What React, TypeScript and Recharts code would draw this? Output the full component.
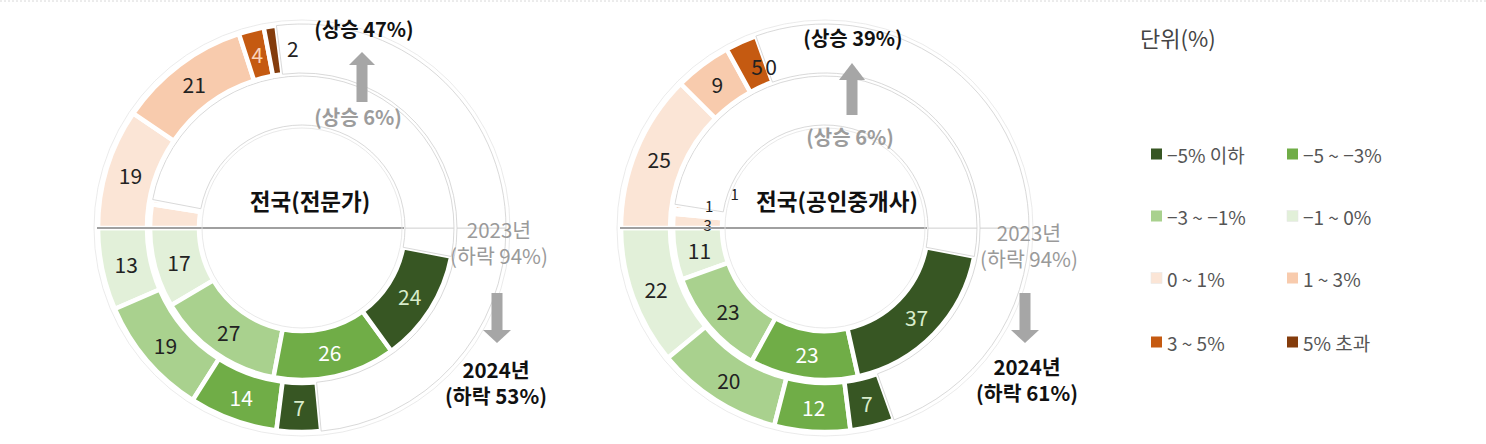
import React from 'react';
import { PieChart, Pie, Cell } from 'recharts';

if (typeof document !== 'undefined') {
  document.body.style.margin = '0';
}

// ---------- data ----------
const categories = ['-5% 이하', '-5 ~ -3%', '-3 ~ -1%', '-1 ~ 0%', '0 ~ 1%', '1 ~ 3%', '3 ~ 5%', '5% 초과'];
const colors = ['#375623', '#70ad47', '#a9d18e', '#e2f0d9', '#fbe5d6', '#f8cbad', '#c55a11', '#843c0c'];

// values aligned with categories
const expert2023 = [24, 26, 27, 17, 5, 1, 0, 0];
const expert2024 = [7, 14, 19, 13, 19, 21, 4, 2];
const broker2023 = [37, 23, 23, 11, 3, 1, 1, 0];
const broker2024 = [7, 12, 20, 22, 25, 9, 5, 0];

// [2023, 2024]
const expertRise = [6, 47];
const expertFall = [94, 53];
const brokerRise = [6, 39];
const brokerFall = [94, 61];

const years = ['2023년', '2024년'];
const titles = ['전국(전문가)', '전국(공인중개사)'];

const DECLINE_ORDER = [3, 2, 1, 0];
const RISE_ORDER = [4, 5, 6, 7];

// ---------- helpers ----------
const FONT = '"Noto Sans CJK KR", "Noto Sans", sans-serif';
const RAD = Math.PI / 180;

type Slice = { name: string; value: number; cat: number };

function half(vals: number[], order: number[]): Slice[] {
  const arr: Slice[] = order.map((i) => ({ name: categories[i], value: vals[i], cat: i }));
  const sum = arr.reduce((s, d) => s + d.value, 0);
  arr.push({ name: 'blank', value: 100 - sum, cat: -1 });
  return arr;
}

const HIDE: Record<string, string[]> = {
  'expert-inner': ['0 ~ 1%', '1 ~ 3%', '3 ~ 5%', '5% 초과'],
  'broker-inner': ['5% 초과'],
};
const NUDGE: Record<string, [number, number]> = {
  'expert-outer-5% 초과': [19, -3],
  'broker-outer-3 ~ 5%': [6, 2],
  'broker-outer-5% 초과': [7, 7],
  'broker-inner-0 ~ 1%': [10, 3],
  'broker-inner-1 ~ 3%': [11, -9],
  'broker-inner-3 ~ 5%': [36, -17],
};
const LIGHT_TEXT: Record<number, string> = { 0: '#d8eccb', 1: '#ffffff', 6: '#fbd3b8' };

function makeLabel(key: string) {
  return (props: any) => {
    const { cx, cy, midAngle, innerRadius, outerRadius, payload, index } = props;
    const p = payload || {};
    const name = p.name ?? props.name;
    const cat = p.cat ?? props.cat;
    const value = p.value ?? props.value;
    if (name === 'blank' || cat === -1) return null;
    if ((HIDE[key] || []).includes(name)) return null;
    const r = (innerRadius + outerRadius) / 2;
    let x = cx + r * Math.cos(-midAngle * RAD);
    let y = cy + r * Math.sin(-midAngle * RAD);
    const nudge = NUDGE[`${key}-${name}`];
    let fill = LIGHT_TEXT[cat] || '#222';
    if (nudge) {
      x += nudge[0];
      y += nudge[1];
      fill = '#222';
    }
    return (
      <text
        key={`${key}-${index}`}
        x={x}
        y={y}
        textAnchor="middle"
        dominantBaseline="central"
        fill={fill}
        fontSize={nudge && key.endsWith('inner') ? 15 : 21}
        fontFamily={FONT}
      >
        {value}
      </text>
    );
  };
}

function cells(data: Slice[]) {
  return data.map((d, i) =>
    d.cat === -1 ? (
      <Cell key={i} fill="#ffffff" stroke="#cfcfcf" strokeWidth={0.8} />
    ) : (
      <Cell key={i} fill={colors[d.cat]} stroke="#ffffff" strokeWidth={4.5} />
    )
  );
}

const INNER = [103, 152];
const OUTER = [155, 204];
const CY = 228;

function ringPies(id: string, cx: number, v2023: number[], v2024: number[]) {
  const rings: [string, number[], number[]][] = [
    ['inner', v2023, INNER],
    ['outer', v2024, OUTER],
  ];
  const out: React.ReactNode[] = [];
  rings.forEach(([ring, vals, rr]) => {
    const key = `${id}-${ring}`;
    const lower = half(vals, DECLINE_ORDER);
    const upper = half(vals, RISE_ORDER);
    out.push(
      <Pie
        key={`${key}-low`}
        data={lower}
        dataKey="value"
        nameKey="name"
        cx={cx}
        cy={CY}
        innerRadius={rr[0]}
        outerRadius={rr[1]}
        startAngle={180}
        endAngle={360}
        isAnimationActive={false}
        label={makeLabel(key)}
        labelLine={false}
      >
        {cells(lower)}
      </Pie>
    );
    out.push(
      <Pie
        key={`${key}-up`}
        data={upper}
        dataKey="value"
        nameKey="name"
        cx={cx}
        cy={CY}
        innerRadius={rr[0]}
        outerRadius={rr[1]}
        startAngle={180}
        endAngle={0}
        isAnimationActive={false}
        label={makeLabel(key)}
        labelLine={false}
      >
        {cells(upper)}
      </Pie>
    );
  });
  return out;
}

// ---------- overlay pieces ----------
const GREY = '#a6a6a6';

function UpArrow({ x, tip, base, end }: { x: number; tip: number; base: number; end: number }) {
  return (
    <g fill={GREY}>
      <polygon points={`${x},${tip} ${x - 13},${base} ${x + 13},${base}`} />
      <rect x={x - 5.5} y={base - 0.5} width={11} height={end - base + 0.5} />
    </g>
  );
}
function DownArrow({ x, start, base, tip }: { x: number; start: number; base: number; tip: number }) {
  return (
    <g fill={GREY}>
      <rect x={x - 5.5} y={start} width={11} height={base - start + 0.5} />
      <polygon points={`${x - 14},${base} ${x + 14},${base} ${x},${tip}`} />
    </g>
  );
}

type Ann = {
  cx: number;
  title: string;
  titleX: number;
  rise: number[];
  fall: number[];
  riseTop: [number, number];
  riseInner: [number, number];
  upArrow: [number, number, number, number];
  y2023: [number, number, number];
  downArrow: [number, number, number, number];
  y2024: [number, number, number];
};

function Annotations({ a }: { a: Ann }) {
  return (
    <g fontFamily={FONT} textAnchor="middle">
      <line x1={a.cx - 205} y1={CY} x2={a.cx + 102} y2={CY} stroke="#a0a0a0" strokeWidth={2} />
      <circle cx={a.cx} cy={CY} r={100} fill="none" stroke="#e3e3e3" strokeWidth={0.8} />
      <circle cx={a.cx} cy={CY} r={208} fill="none" stroke="#e6e6e6" strokeWidth={0.8} />
      <text x={a.riseTop[0]} y={a.riseTop[1]} dominantBaseline="central" fontSize={20} fontWeight={700} fill="#111">
        {`(상승 ${a.rise[1]}%)`}
      </text>
      <UpArrow x={a.upArrow[0]} tip={a.upArrow[1]} base={a.upArrow[2]} end={a.upArrow[3]} />
      <text x={a.riseInner[0]} y={a.riseInner[1]} dominantBaseline="central" fontSize={20} fontWeight={700} fill="#9c9c9c">
        {`(상승 ${a.rise[0]}%)`}
      </text>
      <text x={a.titleX} y={200} dominantBaseline="central" fontSize={22.5} fontWeight={700} fill="#111">
        {a.title}
      </text>
      <text fontSize={20.5} fill="#9a9a9a">
        <tspan x={a.y2023[0]} y={a.y2023[1] + 7}>{years[0]}</tspan>
        <tspan x={a.y2023[0]} y={a.y2023[2] + 7}>{`(하락 ${a.fall[0]}%)`}</tspan>
      </text>
      <DownArrow x={a.downArrow[0]} start={a.downArrow[1]} base={a.downArrow[2]} tip={a.downArrow[3]} />
      <text fontSize={20.5} fontWeight={700} fill="#111">
        <tspan x={a.y2024[0]} y={a.y2024[1] + 7}>{years[1]}</tspan>
        <tspan x={a.y2024[0]} y={a.y2024[2] + 7}>{`(하락 ${a.fall[1]}%)`}</tspan>
      </text>
    </g>
  );
}

const EXPERT_CX = 302;
const BROKER_CX = 825;

const annExpert: Ann = {
  cx: EXPERT_CX,
  title: titles[0],
  titleX: 310,
  rise: expertRise,
  fall: expertFall,
  riseTop: [364, 28],
  riseInner: [358, 116],
  upArrow: [362, 52, 65, 102],
  y2023: [499, 231, 257],
  downArrow: [497, 293, 330, 343],
  y2024: [496, 371, 397],
};
const annBroker: Ann = {
  cx: BROKER_CX,
  title: titles[1],
  titleX: 837,
  rise: brokerRise,
  fall: brokerFall,
  riseTop: [853, 37],
  riseInner: [850, 136],
  upArrow: [852, 63, 80, 115],
  y2023: [1029, 234, 260],
  downArrow: [1025, 293, 330, 343],
  y2024: [1027, 368, 394],
};

const LEGEND_ORDER = [0, 1, 2, 3, 4, 5, 6, 7];
const LEGEND_COLS = [1151, 1287];
const LEGEND_ROWS = [154, 216, 278, 342];

function Legend() {
  return (
    <g fontFamily={FONT}>
      <text x={1140} y={37} fontSize={22} fill="#444" dominantBaseline="central">
        단위(%)
      </text>
      {LEGEND_ORDER.map((c, i) => {
        const x = LEGEND_COLS[i % 2];
        const y = LEGEND_ROWS[Math.floor(i / 2)];
        return (
          <g key={c}>
            <rect x={x} y={y - 5.5} width={11} height={11} fill={colors[c]} stroke={c >= 3 && c <= 4 ? '#e8e8e8' : 'none'} strokeWidth={0.6} />
            <text x={x + 16} y={y} fontSize={19} fill="#555" dominantBaseline="central">
              {categories[c].replace(/-/g, '−')}
            </text>
          </g>
        );
      })}
    </g>
  );
}

export default function App() {
  return (
    <div style={{ position: 'relative', width: 1486, height: 444, background: '#fff', overflow: 'hidden' }}>
      <div style={{ position: 'absolute', left: 0, top: 0 }}>
        <PieChart width={1100} height={444} margin={{ top: 0, right: 0, bottom: 0, left: 0 }}>
          {ringPies('expert', EXPERT_CX, expert2023, expert2024)}
          {ringPies('broker', BROKER_CX, broker2023, broker2024)}
        </PieChart>
      </div>
      <svg
        width={1486}
        height={444}
        style={{ position: 'absolute', left: 0, top: 0, pointerEvents: 'none' }}
      >
        <line x1={0} y1={1} x2={1486} y2={1} stroke="#d8d8d8" strokeDasharray="2 2" strokeWidth={1} />
        <Annotations a={annExpert} />
        <Annotations a={annBroker} />
        <Legend />
      </svg>
    </div>
  );
}
